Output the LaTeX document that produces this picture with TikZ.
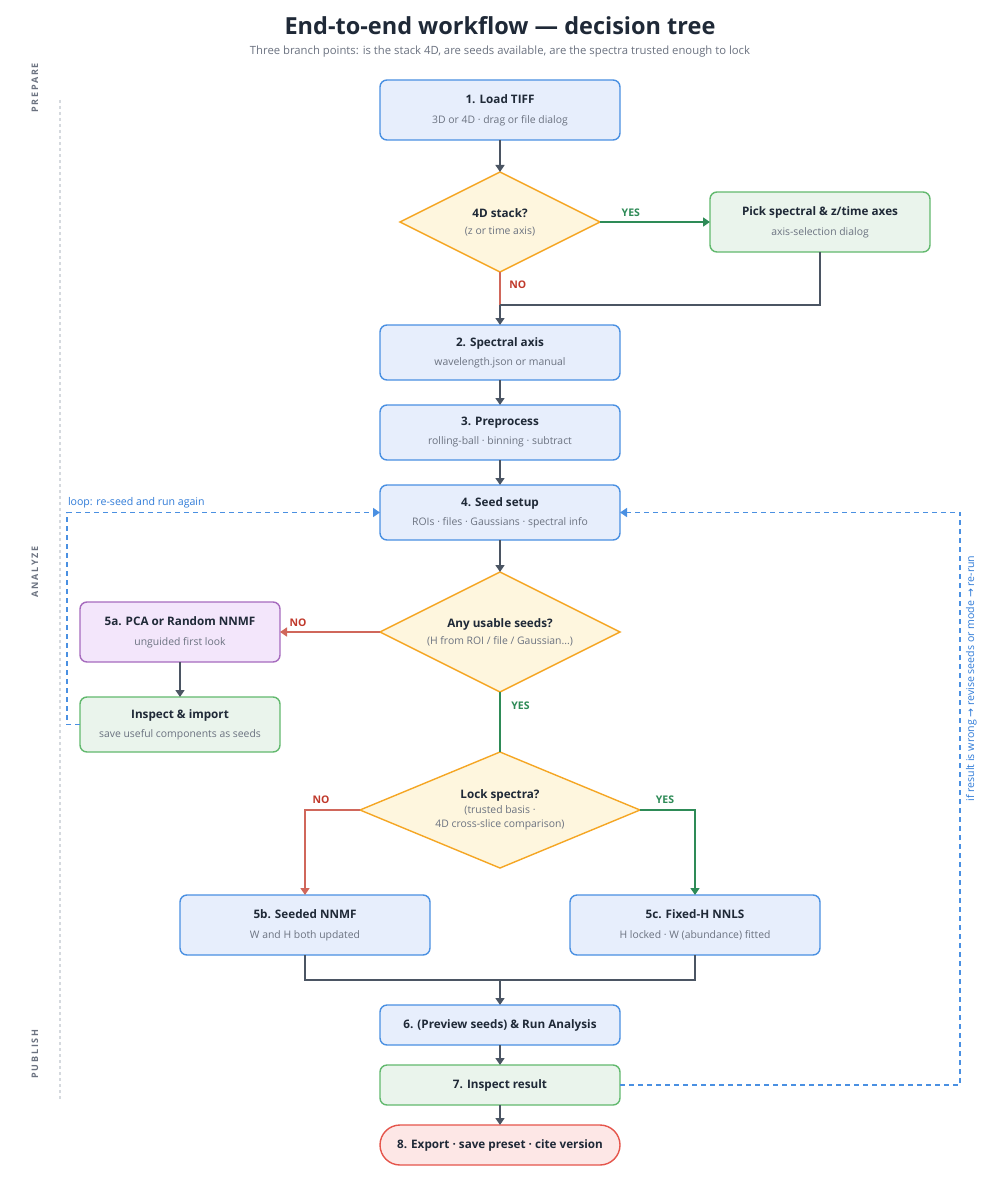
\documentclass[tikz,border=0pt]{standalone}
\usepackage{fontspec}
\setmainfont{Open Sans}
\newfontfamily\arrowfont{DejaVu Sans}
\newfontfamily\lanefont[LetterSpace=20]{Open Sans}
\usepackage{xcolor}
\usetikzlibrary{positioning}
\usetikzlibrary{arrows.meta}
\usetikzlibrary{shapes}

\definecolor{inkdark}{HTML}{1F2937}
\definecolor{subtext}{HTML}{6B7280}
\definecolor{lanegray}{HTML}{D5D9DE}
\definecolor{edgegray}{HTML}{4B5563}
\definecolor{bluefill}{HTML}{E7EEFC}
\definecolor{blueline}{HTML}{4A90E2}
\definecolor{decfill}{HTML}{FEF6DE}
\definecolor{decline}{HTML}{F5A623}
\definecolor{greenfill}{HTML}{EAF4EC}
\definecolor{greenline}{HTML}{62B96E}
\definecolor{purplefill}{HTML}{F3E6FB}
\definecolor{purpleline}{HTML}{A66BBE}
\definecolor{redfill}{HTML}{FDE7E6}
\definecolor{redline}{HTML}{E5554B}
\definecolor{nocolor}{HTML}{C0392B}
\definecolor{noline}{HTML}{D0675B}
\definecolor{yescolor}{HTML}{2E8B57}
\definecolor{loopblue}{HTML}{2F7BD8}

\newcommand\subtxt[1]{{\fontsize{10.4}{13}\selectfont\color{subtext}#1}}
\newcommand\ra{{\arrowfont →}}

\begin{document}
\begin{tikzpicture}[x=1pt,y=-1pt,
      font=\fontsize{11.7}{14}\selectfont,
      every node/.style={outer sep=0pt},
      box style/.style={rectangle,rounded corners=7pt,line width=1.4pt,
        draw=blueline,fill=bluefill,minimum width=240pt,minimum height=55pt,
        align=center,text=inkdark},
      step green/.style={box style,draw=greenline,fill=greenfill},
      step purple/.style={box style,draw=purpleline,fill=purplefill},
      dec style/.style={diamond,aspect=2,inner sep=0pt,line width=1.4pt,
        draw=decline,fill=decfill,align=center,text=inkdark},
      arr/.style={-{Triangle[length=7pt,width=9pt]},line width=1.4pt,draw=edgegray},
      link/.style={line width=1.4pt,draw=edgegray},
      yes link/.style={line width=1.4pt,draw=yescolor},
      no link/.style={line width=1.4pt,draw=noline},
      loop link/.style={line width=1.4pt,draw=blueline,dash pattern=on 5pt off 4pt},
      yes label/.style={font=\fontsize{10.5}{12}\selectfont\bfseries,text=yescolor},
      no label/.style={font=\fontsize{10.5}{12}\selectfont\bfseries,text=nocolor},
      loop label/.style={font=\fontsize{10.6}{12}\selectfont,text=loopblue},
      lane label/.style={font=\lanefont\bfseries\fontsize{9}{10}\selectfont,
        text=subtext,rotate=90}
      ]
      \fill[white] (0,0) rectangle (1000,1180);
      \useasboundingbox (0,0) rectangle (1000,1180);

      \node[font=\fontsize{23.5}{26}\selectfont\bfseries,text=inkdark] (title) at (500,26)
        {End-to-end workflow — decision tree};
      \node[font=\fontsize{11.3}{13}\selectfont,text=subtext,below=4pt of title] (subtitle)
        {Three branch points: is the stack 4D, are seeds available, are the spectra trusted enough to lock};

      \node[lane label] (prepare) at (35,88) {PREPARE};
      \node[lane label] (analyze) at (35,572) {ANALYZE};
      \node[lane label] (publish) at (35,1054) {PUBLISH};
      \coordinate (lanetop) at (60,100);
      \coordinate (lanebot) at (60,1100);
      \draw[lanegray,line width=1.4pt,dash pattern=on 3pt off 3pt] (lanetop) -- (lanebot);

      \node[box style,minimum height=60pt] (load) at (500,110)
        {\textbf{1. Load TIFF}\\[6pt]\subtxt{3D or 4D · drag or file dialog}};
      \node[dec style,minimum width=200pt,minimum height=100pt,below=32pt of load] (stack)
        {\textbf{4D stack?}\\[3pt]\subtxt{(z or time axis)}};
      \node[step green,minimum width=220pt,minimum height=60pt,right=110pt of stack] (pick)
        {\textbf{Pick spectral \& z/time axes}\\[6pt]\subtxt{axis-selection dialog}};
      \node[box style,below=53pt of stack] (axis)
        {\textbf{2. Spectral axis}\\[5pt]\subtxt{wavelength.json or manual}};
      \node[box style,below=25pt of axis] (prep)
        {\textbf{3. Preprocess}\\[5pt]\subtxt{rolling-ball · binning · subtract}};
      \node[box style,below=25pt of prep] (seed)
        {\textbf{4. Seed setup}\\[5pt]\subtxt{ROIs · files · Gaussians · spectral info}};
      \node[dec style,minimum width=240pt,minimum height=120pt,below=32pt of seed] (usable)
        {\textbf{Any usable seeds?}\\[3pt]\subtxt{(H from ROI / file / Gaussian...)}};
      \node[step purple,minimum width=200pt,minimum height=60pt,left=100pt of usable] (pca)
        {\textbf{5a. PCA or Random NNMF}\\[6pt]\subtxt{unguided first look}};
      \node[step green,minimum width=200pt,below=35pt of pca] (import)
        {\textbf{Inspect \& import}\\[5pt]\subtxt{save useful components as seeds}};
      \node[dec style,minimum width=280pt,minimum height=116pt,below=60pt of usable] (lock)
        {\textbf{Lock spectra?}\\[1pt]\subtxt{(trusted basis ·}\\[0pt]\subtxt{4D cross-slice comparison)}};
      \node[box style,minimum width=250pt,minimum height=60pt] (seeded) at (305,925)
        {\textbf{5b. Seeded NNMF}\\[6pt]\subtxt{W and H both updated}};
      \node[box style,minimum width=250pt,minimum height=60pt] (fixed) at (695,925)
        {\textbf{5c. Fixed-H NNLS}\\[6pt]\subtxt{H locked · W (abundance) fitted}};
      \node[box style,minimum height=40pt] (run) at (500,1025)
        {\textbf{6. (Preview seeds) \& Run Analysis}};
      \node[step green,minimum height=40pt,below=20pt of run] (inspect)
        {\textbf{7. Inspect result}};
      \node[box style,draw=redline,fill=redfill,rounded corners=20pt,minimum height=40pt,
        below=20pt of inspect] (export)
        {\textbf{8. Export · save preset · cite version}};

      \coordinate (join1) at (500,305);
      \coordinate (join2) at (500,980);

      \draw[arr] (load) -- (stack);
      \draw[yes link,-{Triangle[length=7pt,width=9pt]}] (stack) --
        node[yes label,above=2pt,pos=0.28] {YES} (pick);
      \draw[no link] (stack) -- node[no label,right=6pt,pos=0.4] {NO} (join1);
      \draw[link] (pick) |- (join1);
      \draw[arr] (join1) -- (axis);
      \draw[arr] (axis) -- (prep);
      \draw[arr] (prep) -- (seed);
      \draw[arr] (seed) -- (usable);

      \draw[no link,-{Triangle[length=7pt,width=9pt]}] (usable) --
        node[no label,above=2pt,pos=0.82] {NO} (pca);
      \draw[arr] (pca) -- (import);
      \draw[loop link,-{Triangle[length=7pt,width=9pt]}] (import.west) -- ++(-13pt,0) |-
        node[loop label,pos=0.5,anchor=south west,inner sep=1pt,yshift=3pt]
        {loop: re-seed and run again} (seed.west);

      \draw[yes link] (usable) -- node[yes label,right=8pt,pos=0.23] {YES} (lock);
      \draw[no link,-{Triangle[length=7pt,width=9pt]}] (lock.west) -|
        node[no label,pos=0.5,above=3pt,xshift=16pt] {NO} (seeded.north);
      \draw[yes link,-{Triangle[length=7pt,width=9pt]}] (lock.east) -|
        node[yes label,pos=0.5,above=3pt,xshift=-30pt] {YES} (fixed.north);

      \draw[link] (seeded) |- (join2);
      \draw[link] (fixed) |- (join2);
      \draw[arr] (join2) -- (run);
      \draw[arr] (run) -- (inspect);
      \draw[arr] (inspect) -- (export);

      \draw[loop link,-{Triangle[length=7pt,width=9pt]}] (inspect.east) -- ++(340pt,0) |-
        node[loop label,pos=0.355,rotate=90,anchor=north,inner sep=6pt]
        {if result is wrong \ra{} revise seeds or mode \ra{} re-run} (seed.east);

    \end{tikzpicture}
\end{document}
